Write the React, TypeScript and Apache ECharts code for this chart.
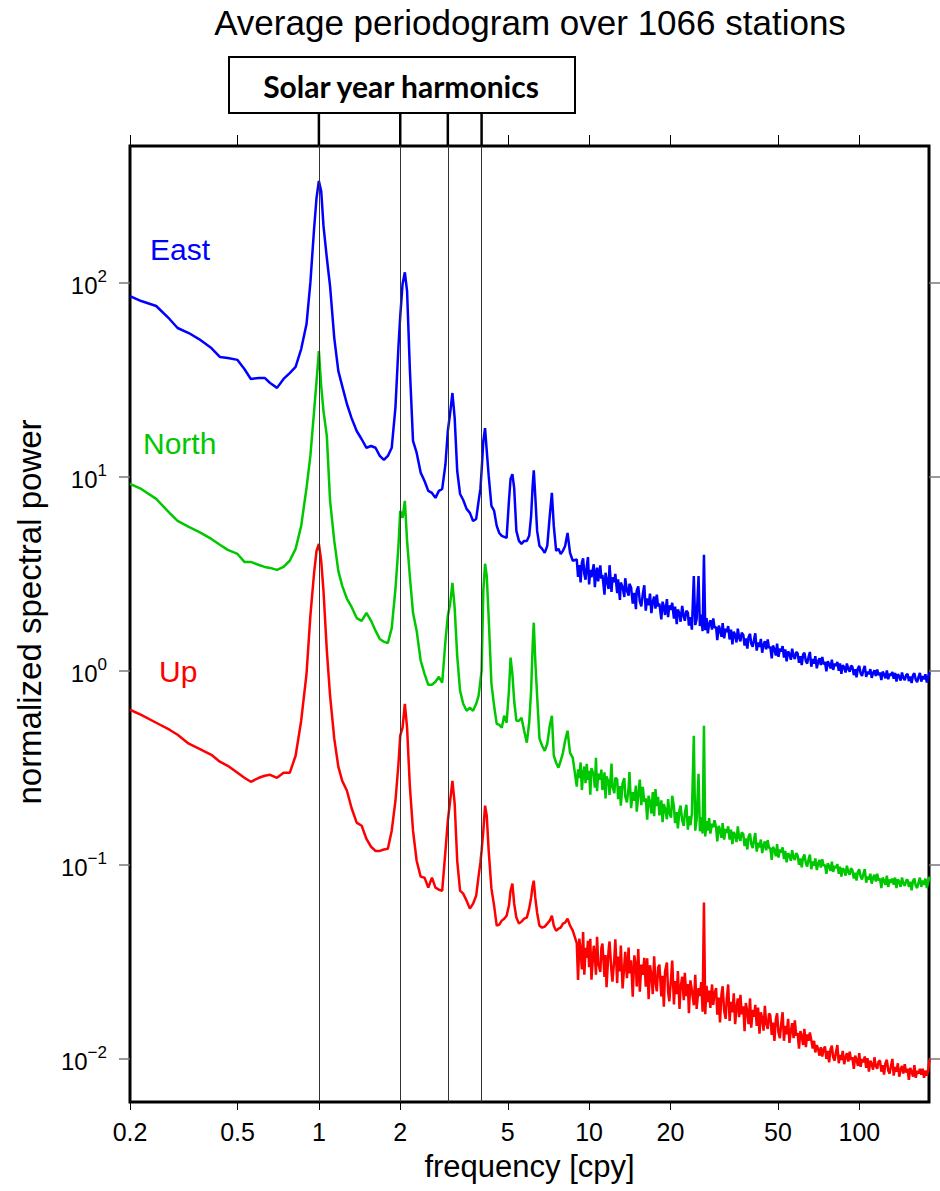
import React, { useEffect, useRef } from "react";
import * as echarts from "echarts";

// frequency in cycles per year
const frequency = [
  0.2, 0.22, 0.25, 0.28, 0.3, 0.33, 0.36, 0.4, 0.43, 0.46,
  0.5, 0.53, 0.56, 0.6, 0.63, 0.66, 0.7, 0.74, 0.78, 0.82,
  0.86, 0.9, 0.93, 0.96, 0.98, 1.0, 1.02, 1.04, 1.07, 1.1,
  1.14, 1.18, 1.22, 1.27, 1.32, 1.38, 1.44, 1.5, 1.56, 1.62,
  1.68, 1.74, 1.8, 1.86, 1.92, 1.97, 2.0, 2.04, 2.08, 2.12,
  2.17, 2.23, 2.3, 2.38, 2.46, 2.54, 2.62, 2.7, 2.78, 2.86,
  2.94, 3.0, 3.06, 3.12, 3.18, 3.25, 3.33, 3.42, 3.52, 3.62,
  3.72, 3.82, 3.9, 3.96, 4.0, 4.06, 4.12, 4.18, 4.25, 4.35,
  4.45, 4.55, 4.65, 4.75, 4.85, 4.95, 5.05, 5.12, 5.2, 5.28,
  5.38, 5.5, 5.62, 5.75, 5.88, 6.0, 6.1, 6.18, 6.24, 6.32,
  6.42, 6.55, 6.7, 6.85, 7.0, 7.15, 7.28, 7.4, 7.55, 7.7,
  7.85, 8.0, 8.15, 8.32, 8.5, 8.7,
  9.0, 9.1, 9.2, 9.3, 9.4, 9.5, 9.6, 9.7, 9.8, 9.9,
  10.0, 10.1, 10.2, 10.4, 10.5, 10.6, 10.7, 10.8, 11.0, 11.1,
  11.2, 11.4, 11.5, 11.6, 11.8, 11.9, 12.1, 12.2, 12.4, 12.5,
  12.7, 12.8, 13.0, 13.1, 13.3, 13.5, 13.6, 13.8, 14.0, 14.1,
  14.3, 14.5, 14.7, 14.9, 15.0, 15.2, 15.4, 15.6, 15.8, 16.0,
  16.2, 16.4, 16.6, 16.8, 17.0, 17.2, 17.4, 17.6, 17.8, 18.0,
  18.2, 18.5, 18.7, 18.9, 19.1, 19.4, 19.6, 19.8, 20.1, 20.3,
  20.6, 20.8, 21.1, 21.3, 21.6, 21.8, 22.1, 22.4, 22.6, 22.9,
  23.2, 23.4, 23.7, 24.0, 24.4, 24.7, 25.0, 25.4, 25.7, 26.0,
  26.3, 26.6, 26.9, 27.2, 27.5, 27.8, 28.1, 28.5, 28.8, 29.1,
  29.5, 29.8, 30.2, 30.5, 30.9, 31.2, 31.6, 32.0, 32.3, 32.7,
  33.1, 33.5, 33.9, 34.3, 34.7, 35.1, 35.5, 35.9, 36.3, 36.7,
  37.2, 37.6, 38.0, 38.5, 38.9, 39.4, 39.8, 40.3, 40.8, 41.2,
  41.7, 42.2, 42.7, 43.2, 43.7, 44.2, 44.7, 45.2, 45.8, 46.3,
  46.8, 47.4, 47.9, 48.5, 49.1, 49.6, 50.2, 50.8, 51.4, 52.0,
  52.6, 53.2, 53.8, 54.5, 55.1, 55.8, 56.4, 57.1, 57.7, 58.4,
  59.1, 59.8, 60.5, 61.2, 61.9, 62.6, 63.4, 64.1, 64.9, 65.6,
  66.4, 67.2, 68.0, 68.7, 69.6, 70.4, 71.2, 72.0, 72.9, 73.7,
  74.6, 75.5, 76.4, 77.3, 78.2, 79.1, 80.0, 81.0, 81.9, 82.9,
  83.9, 84.8, 85.8, 86.8, 87.9, 88.9, 89.9, 91.0, 92.1, 93.1,
  94.2, 95.4, 96.5, 97.6, 98.8, 99.9, 101.1, 102.3, 103.5, 104.7,
  106.0, 107.2, 108.5, 109.8, 111.1, 112.4, 113.7, 115.0, 116.4, 117.8,
  119.2, 120.6, 122.0, 123.4, 124.9, 126.4, 127.9, 129.4, 130.9, 132.5,
  134.0, 135.6, 137.2, 138.8, 140.5, 142.1, 143.8, 145.5, 147.2, 149.0,
  150.7, 152.5, 154.3, 156.1, 158.0, 159.8, 161.7, 163.6, 165.6, 167.5,
  169.5, 171.5, 173.5, 175.6, 177.7, 179.8, 182.0,
];

const east = [
  85.3, 80.4, 75.8, 65.0, 58.4, 55.0, 51.2, 46.0, 41.4, 40.9,
  40.0, 35.9, 31.9, 32.3, 32.3, 30.4, 28.7, 31.9, 34.2, 36.8,
  45.5, 61.2, 100, 190, 273, 334, 296, 196, 134, 96,
  51.8, 35.1, 29.3, 23.7, 20.1, 17.2, 15.6, 14.1, 14.4, 14.1,
  12.8, 12.2, 12.8, 14.1, 22.8, 46.9, 67.3, 98.3, 113, 90.5,
  36.3, 15.3, 13.3, 10.5, 9.51, 8.45, 8.25, 7.78, 8.45, 8.65,
  11.6, 17.2, 21.3, 27.0, 20.1, 10.7, 8.15, 7.59, 6.83, 6.51,
  5.92, 6.06, 7.51, 8.65, 10.7, 15.3, 17.8, 13.6, 10.1, 7.07,
  6.68, 5.58, 5.13, 4.96, 4.90, 4.84, 7.51, 9.74, 10.3, 8.76,
  5.26, 4.67, 4.51, 4.67, 4.67, 4.96, 6.28, 8.97, 10.8, 7.96,
  5.26, 4.40, 4.25, 4.05, 4.40, 6.28, 8.25, 5.58, 4.15, 4.25,
  4.00, 4.15, 4.40, 5.13, 4.05, 3.69,
  3.75, 3.05, 3.50, 2.85, 3.60, 3.80, 3.15, 2.95, 3.45, 3.85,
  2.79, 3.31, 3.03, 3.54, 2.70, 3.17, 3.40, 2.89, 3.49, 2.98,
  3.12, 2.47, 3.20, 2.99, 2.64, 3.50, 2.55, 3.03, 2.86, 3.16,
  2.51, 2.96, 2.32, 2.85, 2.70, 2.40, 3.00, 2.59, 2.44, 2.81,
  2.69, 2.22, 2.52, 2.08, 2.59, 2.72, 2.28, 2.15, 2.49, 2.76,
  2.04, 2.36, 2.18, 2.50, 1.98, 2.27, 2.41, 2.09, 2.47, 2.15,
  2.22, 1.84, 2.27, 2.14, 1.94, 2.34, 1.89, 2.17, 2.06, 2.24,
  1.86, 2.14, 1.74, 2.07, 1.97, 1.79, 2.16, 1.90, 1.81, 2.04,
  1.99, 1.71, 1.89, 1.63, 3.08, 1.72, 1.85, 3.08, 1.70, 1.95,
  1.60, 3.96, 1.62, 1.87, 1.56, 1.74, 1.82, 1.63, 1.86, 1.67,
  1.68, 1.44, 1.71, 1.63, 1.50, 1.76, 1.47, 1.65, 1.58, 1.70,
  1.45, 1.63, 1.37, 1.59, 1.53, 1.40, 1.65, 1.48, 1.42, 1.57,
  1.53, 1.35, 1.47, 1.30, 1.49, 1.55, 1.38, 1.33, 1.46, 1.56,
  1.27, 1.40, 1.33, 1.46, 1.24, 1.36, 1.42, 1.29, 1.45, 1.31,
  1.33, 1.16, 1.35, 1.29, 1.20, 1.38, 1.18, 1.30, 1.26, 1.34,
  1.17, 1.29, 1.12, 1.26, 1.22, 1.14, 1.30, 1.19, 1.15, 1.25,
  1.23, 1.10, 1.19, 1.07, 1.21, 1.24, 1.12, 1.09, 1.18, 1.25,
  1.05, 1.15, 1.09, 1.19, 1.03, 1.12, 1.16, 1.07, 1.18, 1.08,
  1.11, 0.995, 1.12, 1.08, 1.03, 1.14, 1.01, 1.09, 1.06, 1.11,
  1.00, 1.09, 0.965, 1.07, 1.04, 0.98, 1.09, 1.02, 0.99, 1.06,
  1.05, 0.95, 1.02, 0.925, 1.03, 1.06, 0.97, 0.94, 1.01, 1.06,
  0.93, 0.99, 0.96, 1.02, 0.92, 0.975, 1.005, 0.94, 1.015, 0.95,
  0.98, 0.895, 0.99, 0.96, 0.915, 1.005, 0.905, 0.965, 0.945, 0.985,
  0.91, 0.975, 0.88, 0.96, 0.935, 0.89, 0.98, 0.92, 0.895, 0.95,
  0.965, 0.885, 0.935, 0.865, 0.95, 0.97, 0.90, 0.875, 0.93, 0.975,
  0.88, 0.94, 0.905, 0.96, 0.87, 0.93, 0.98,
];

const north = [
  9.18, 8.65, 7.69, 6.51, 5.92, 5.51, 5.20, 4.78, 4.46, 4.20,
  4.00, 3.64, 3.64, 3.51, 3.43, 3.39, 3.31, 3.43, 3.69, 4.25,
  5.58, 8.76, 12.8, 21.8, 31.1, 44.4, 29.3, 21.8, 16.2, 7.51,
  4.67, 3.27, 2.74, 2.35, 2.14, 1.87, 1.81, 1.99, 1.81, 1.61,
  1.46, 1.41, 1.39, 1.66, 2.64, 4.40, 6.67, 6.14, 7.51, 4.67,
  3.08, 1.99, 1.61, 1.13, 0.965, 0.847, 0.847, 0.878, 0.931, 0.868,
  1.43, 1.92, 2.21, 2.84, 2.11, 1.19, 0.789, 0.676, 0.622, 0.645,
  0.622, 0.676, 0.744, 0.888, 1.00, 2.58, 3.56, 3.08, 1.87, 0.857,
  0.660, 0.533, 0.527, 0.509, 0.587, 0.540, 0.789, 1.17, 0.965, 0.701,
  0.553, 0.553, 0.573, 0.491, 0.426, 0.540, 0.789, 1.35, 1.77, 1.13,
  0.744, 0.447, 0.411, 0.387, 0.421, 0.521, 0.587, 0.365, 0.336, 0.317,
  0.344, 0.378, 0.436, 0.491, 0.378, 0.356,
  0.253, 0.311, 0.280, 0.337, 0.243, 0.295, 0.321, 0.264, 0.332, 0.274,
  0.305, 0.230, 0.315, 0.290, 0.250, 0.356, 0.240, 0.295, 0.275, 0.310,
  0.243, 0.300, 0.220, 0.286, 0.267, 0.229, 0.333, 0.253, 0.234, 0.281,
  0.276, 0.218, 0.255, 0.202, 0.264, 0.280, 0.226, 0.210, 0.251, 0.301,
  0.196, 0.237, 0.214, 0.256, 0.188, 0.226, 0.275, 0.203, 0.252, 0.211,
  0.220, 0.171, 0.227, 0.211, 0.184, 0.237, 0.178, 0.246, 0.201, 0.224,
  0.180, 0.215, 0.166, 0.206, 0.195, 0.172, 0.218, 0.186, 0.175, 0.227,
  0.199, 0.164, 0.187, 0.154, 0.192, 0.202, 0.169, 0.159, 0.184, 0.204,
  0.152, 0.178, 0.160, 0.183, 0.463, 0.150, 0.172, 0.295, 0.149, 0.176,
  0.145, 0.521, 0.140, 0.168, 0.150, 0.174, 0.145, 0.163, 0.156, 0.170,
  0.156, 0.132, 0.159, 0.151, 0.138, 0.164, 0.135, 0.153, 0.146, 0.158,
  0.135, 0.152, 0.128, 0.148, 0.142, 0.131, 0.158, 0.138, 0.133, 0.147,
  0.144, 0.125, 0.137, 0.120, 0.140, 0.145, 0.128, 0.122, 0.136, 0.146,
  0.117, 0.130, 0.123, 0.135, 0.115, 0.126, 0.132, 0.119, 0.134, 0.122,
  0.122, 0.106, 0.124, 0.119, 0.111, 0.128, 0.109, 0.120, 0.116, 0.123,
  0.107, 0.118, 0.103, 0.115, 0.112, 0.105, 0.119, 0.109, 0.106, 0.115,
  0.112, 0.100, 0.108, 0.097, 0.109, 0.113, 0.102, 0.098, 0.107, 0.113,
  0.095, 0.104, 0.099, 0.108, 0.094, 0.102, 0.106, 0.097, 0.107, 0.099,
  0.100, 0.090, 0.102, 0.098, 0.093, 0.104, 0.092, 0.099, 0.096, 0.101,
  0.090, 0.098, 0.087, 0.096, 0.094, 0.088, 0.099, 0.092, 0.089, 0.096,
  0.094, 0.085, 0.091, 0.083, 0.092, 0.095, 0.087, 0.084, 0.090, 0.095,
  0.081, 0.087, 0.084, 0.090, 0.080, 0.086, 0.089, 0.082, 0.090, 0.083,
  0.085, 0.076, 0.086, 0.083, 0.079, 0.088, 0.077, 0.084, 0.081, 0.085,
  0.079, 0.086, 0.076, 0.084, 0.082, 0.077, 0.086, 0.080, 0.078, 0.083,
  0.084, 0.077, 0.082, 0.074, 0.083, 0.085, 0.078, 0.076, 0.081, 0.086,
  0.077, 0.083, 0.079, 0.085, 0.076, 0.082, 0.087,
];

const up = [
  0.630, 0.593, 0.540, 0.497, 0.468, 0.421, 0.397, 0.369, 0.340, 0.324,
  0.298, 0.281, 0.268, 0.281, 0.288, 0.291, 0.281, 0.298, 0.298, 0.365,
  0.553, 0.965, 1.92, 3.20, 4.15, 4.51, 3.68, 2.58, 1.27, 0.744,
  0.447, 0.321, 0.271, 0.241, 0.197, 0.165, 0.159, 0.136, 0.124, 0.118,
  0.118, 0.120, 0.121, 0.150, 0.214, 0.332, 0.463, 0.509, 0.676, 0.509,
  0.256, 0.150, 0.105, 0.0870, 0.0859, 0.0763, 0.0859, 0.0763, 0.0745, 0.0736,
  0.118, 0.169, 0.214, 0.271, 0.207, 0.105, 0.0736, 0.0711, 0.0654, 0.0595,
  0.0631, 0.0694, 0.0877, 0.103, 0.118, 0.150, 0.202, 0.179, 0.118, 0.0754,
  0.0617, 0.0486, 0.0492, 0.0516, 0.0528, 0.0547, 0.0617, 0.0736, 0.0800, 0.0631,
  0.0535, 0.0498, 0.0510, 0.0528, 0.0535, 0.0595, 0.0678, 0.0781, 0.0829, 0.0678,
  0.0567, 0.0486, 0.0475, 0.0481, 0.0498, 0.0516, 0.0547, 0.0486, 0.0458, 0.0469,
  0.0475, 0.0498, 0.0504, 0.0528, 0.0486, 0.0458,
  0.0395, 0.0255, 0.0417, 0.0362, 0.0289, 0.0451, 0.0272, 0.0374, 0.0332, 0.0406,
  0.0297, 0.0416, 0.0256, 0.0383, 0.0340, 0.0272, 0.0426, 0.0314, 0.0281, 0.0373,
  0.0393, 0.0265, 0.0343, 0.0234, 0.0362, 0.0403, 0.0281, 0.0250, 0.0332, 0.0413,
  0.0246, 0.0337, 0.0283, 0.0384, 0.0231, 0.0307, 0.0356, 0.0261, 0.0375, 0.0276,
  0.0322, 0.0209, 0.0342, 0.0296, 0.0236, 0.0368, 0.0222, 0.0306, 0.0271, 0.0332,
  0.0236, 0.0330, 0.0203, 0.0304, 0.0270, 0.0216, 0.0338, 0.0249, 0.0223, 0.0296,
  0.0306, 0.0210, 0.0268, 0.0186, 0.0283, 0.0314, 0.0221, 0.0198, 0.0260, 0.0321,
  0.0191, 0.0252, 0.0216, 0.0284, 0.0181, 0.0233, 0.0265, 0.0201, 0.0278, 0.0211,
  0.0243, 0.0172, 0.0254, 0.0226, 0.0189, 0.0271, 0.0181, 0.0232, 0.0211, 0.0249,
  0.0175, 0.0639, 0.0170, 0.0238, 0.0196, 0.0225, 0.0183, 0.0242, 0.0190, 0.0218,
  0.0232, 0.0169, 0.0207, 0.0154, 0.0217, 0.0237, 0.0177, 0.0161, 0.0202, 0.0242,
  0.0157, 0.0197, 0.0174, 0.0218, 0.0151, 0.0184, 0.0205, 0.0164, 0.0214, 0.0170,
  0.0187, 0.0139, 0.0194, 0.0175, 0.0151, 0.0205, 0.0145, 0.0179, 0.0165, 0.0190,
  0.0148, 0.0184, 0.0135, 0.0174, 0.0161, 0.0140, 0.0188, 0.0153, 0.0143, 0.0171,
  0.0169, 0.0133, 0.0154, 0.0124, 0.0160, 0.0172, 0.0137, 0.0128, 0.0152, 0.0174,
  0.0124, 0.0148, 0.0134, 0.0161, 0.0121, 0.0140, 0.0153, 0.0128, 0.0158, 0.0132,
  0.0136, 0.0113, 0.0139, 0.0131, 0.0118, 0.0143, 0.0115, 0.0134, 0.0124, 0.0137,
  0.0125, 0.0113, 0.0124, 0.0108, 0.0118, 0.0112, 0.0104, 0.0115, 0.0103, 0.0112,
  0.0116, 0.0100, 0.0110, 0.0096, 0.0112, 0.0117, 0.0102, 0.0098, 0.0108, 0.0118,
  0.0095, 0.0105, 0.0099, 0.0110, 0.0094, 0.0102, 0.0107, 0.0097, 0.0109, 0.0099,
  0.0102, 0.0089, 0.0104, 0.0099, 0.0092, 0.0107, 0.0091, 0.0100, 0.0096, 0.0103,
  0.0090, 0.0101, 0.0086, 0.0098, 0.0094, 0.0088, 0.0102, 0.0092, 0.0089, 0.0097,
  0.0098, 0.0086, 0.0093, 0.0083, 0.0095, 0.0099, 0.0087, 0.0084, 0.0092, 0.0100,
  0.0082, 0.0091, 0.0086, 0.0095, 0.0081, 0.0088, 0.0092, 0.0084, 0.0094, 0.0085,
  0.0089, 0.0078, 0.0090, 0.0086, 0.0081, 0.0093, 0.0080, 0.0087, 0.0084, 0.0089,
  0.0083, 0.0089, 0.0080, 0.0087, 0.0082, 0.0088, 0.0100,
];

const xTickValues = [0.2, 0.5, 1, 2, 5, 10, 20, 50, 100];
const yTickValues = [0.01, 0.1, 1, 10, 100];
const harmonics = [1, 2, 3, 4];
const seriesNames = ["East", "North", "Up"];
const seriesValues = [east, north, up];
const seriesColors = ["#0000ff", "#00c800", "#ff0000"];
const titleText = "Average periodogram over 1066 stations";
const boxText = "Solar year harmonics";

const FONT = "'Liberation Sans', Arial, Helvetica, sans-serif";

function expLabel(v: number): string {
  const e = Math.round(Math.log10(v));
  const s = e < 0 ? "\u2212" + String(-e) : String(e);
  return "{b|10}{s|" + s + "}";
}

export default function App() {
  const ref = useRef<HTMLDivElement>(null);

  useEffect(() => {
    if (!ref.current) return;
    const chart = echarts.init(ref.current, null, { renderer: "svg" });

    const series: any[] = seriesNames.map((name, k) => ({
      type: "line",
      name,
      data: frequency.map((f, i) => [f, seriesValues[k][i]]),
      showSymbol: false,
      symbol: "none",
      silent: true,
      z: 3,
      lineStyle: { color: seriesColors[k], width: 2.5 },
      itemStyle: { color: seriesColors[k] },
    }));
    series[0].markLine = {
      silent: true,
      symbol: ["none", "none"],
      label: { show: false },
      lineStyle: { color: "#333", width: 1, type: "solid" },
      data: harmonics.map((h) => ({ xAxis: h })),
    };

    const xCommon = {
      type: "log",
      min: 0.2,
      max: 181,
      axisLine: { show: false },
      splitLine: { show: false },
      minorTick: { show: false },
    };
    const yCommon = {
      type: "log",
      min: 0.006,
      max: 506,
      axisLine: { show: false },
      splitLine: { show: false },
      minorTick: { show: false },
    };

    chart.setOption({
      animation: false,
      backgroundColor: "#ffffff",
      grid: {
        left: 130,
        right: 11,
        top: 146,
        bottom: 89,
        show: true,
        borderColor: "#000",
        borderWidth: 3,
        backgroundColor: "transparent",
      },
      xAxis: [
        {
          ...xCommon,
          position: "bottom",
          name: "frequency [cpy]",
          nameLocation: "middle",
          nameGap: 49,
          nameTextStyle: { fontFamily: FONT, fontSize: 31, color: "#000" },
          axisTick: { show: true, length: 8, lineStyle: { color: "#000", width: 1 }, customValues: xTickValues },
          axisLabel: {
            customValues: xTickValues,
            formatter: (v: number) => String(v),
            fontFamily: FONT,
            fontSize: 25,
            color: "#000",
            margin: 17,
          },
        },
        {
          ...xCommon,
          position: "top",
          axisTick: { show: true, length: 11, lineStyle: { color: "#000", width: 1 }, customValues: xTickValues },
          axisLabel: { show: false, customValues: xTickValues },
        },
      ],
      yAxis: [
        {
          ...yCommon,
          position: "left",
          name: "normalized spectral power",
          nameLocation: "middle",
          nameGap: 84,
          nameTextStyle: { fontFamily: FONT, fontSize: 33, color: "#000", padding: [0, 0, 0, 24] },
          axisTick: { show: true, length: 11, lineStyle: { color: "#777", width: 1.5 }, customValues: yTickValues },
          axisLabel: {
            customValues: yTickValues,
            formatter: expLabel,
            margin: 23,
            fontFamily: FONT,
            fontSize: 24,
            color: "#000",
            rich: {
              b: { fontFamily: FONT, fontSize: 24, color: "#000", lineHeight: 30, verticalAlign: "bottom" },
              s: { fontFamily: FONT, fontSize: 17, color: "#000", lineHeight: 17, verticalAlign: "top" },
            },
          },
        },
        {
          ...yCommon,
          position: "right",
          axisTick: { show: true, length: 11, lineStyle: { color: "#777", width: 1.5 }, customValues: yTickValues },
          axisLabel: { show: false, customValues: yTickValues },
        },
      ],
      series,
    });

    const gridTop = 146;
    const xs = harmonics.map((h) => chart.convertToPixel({ xAxisIndex: 0 }, h) as number);
    const labelPos = [
      { x: 150, y: 249 },
      { x: 143, y: 443 },
      { x: 159, y: 671 },
    ];

    chart.setOption({
      graphic: {
        elements: [
          {
            type: "text",
            x: 530,
            y: 22,
            z: 11,
            style: {
              text: titleText,
              fontFamily: FONT,
              fontSize: 35,
              fill: "#000",
              textAlign: "center",
              textVerticalAlign: "middle",
              align: "center",
              verticalAlign: "middle",
            },
          },
          {
            type: "rect",
            shape: { x: 229, y: 57, width: 346, height: 56 },
            style: { fill: "#fff", stroke: "#000", lineWidth: 2 },
            z: 10,
          },
          {
            type: "text",
            x: 401,
            y: 86,
            z: 11,
            style: {
              text: boxText,
              fontFamily: "Lato, 'Open Sans', sans-serif",
              fontWeight: "bold",
              fontSize: 30,
              fill: "#000",
              textAlign: "center",
              textVerticalAlign: "middle",
              align: "center",
              verticalAlign: "middle",
            },
          },
          ...xs.map((x) => ({
            type: "line",
            shape: { x1: x, y1: 113, x2: x, y2: gridTop },
            style: { stroke: "#000", lineWidth: 2.5 },
            z: 10,
          })),
          ...seriesNames.map((name, k) => ({
            type: "text",
            x: labelPos[k].x,
            y: labelPos[k].y,
            z: 11,
            style: {
              text: name,
              fontFamily: FONT,
              fontSize: 30,
              fill: seriesColors[k],
              textAlign: "left",
              textVerticalAlign: "middle",
              align: "left",
              verticalAlign: "middle",
            },
          })),
        ],
      },
    });

    return () => chart.dispose();
  }, []);

  return (
    <div
      ref={ref}
      style={{ position: "absolute", left: 0, top: 0, width: 940, height: 1191 }}
    />
  );
}
